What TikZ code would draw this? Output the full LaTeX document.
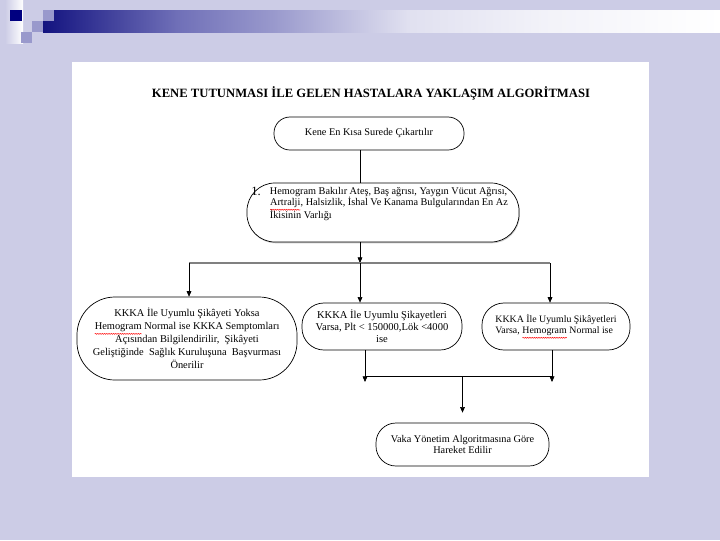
\documentclass[tikz,border=0pt]{standalone}
\usepackage{fontspec}
\setmainfont{Liberation Serif}
\usetikzlibrary{arrows.meta,shadows,decorations.pathmorphing}

\definecolor{slidebg}{RGB}{204,204,230}
\definecolor{slidenavy}{RGB}{0,0,128}
\definecolor{slidesq}{RGB}{153,153,204}
\pgfdeclarehorizontalshading{titlebar}{100bp}{color(0bp)=(slidenavy!85!gray);
  color(25bp)=(slidenavy!85!gray); color(35bp)=(slidenavy!45!slidebg);
  color(42bp)=(slidebg!75!slidenavy); color(52bp)=(slidebg!60!white);
  color(62bp)=(slidebg!25!white); color(75bp)=(white); color(100bp)=(white)}
\newcommand\spellwave[1]{\tikz[baseline=(sw.base)]{%
  \node[shape=rectangle, draw=none, fill=none, inner sep=0pt, outer sep=0pt,
    minimum size=0pt, rounded corners=0pt] (sw) {#1};
  \draw[red, line width=0.35pt, sharp corners, decorate,
    decoration={snake, amplitude=0.35pt, segment length=1.6pt}]
    ([yshift=-1.3pt]sw.south west) -- ([yshift=-1.3pt]sw.south east);}}

\begin{document}
\begin{tikzpicture}[x=0.025cm, y=-0.025cm, line width=0.5pt,
  rbox/.style={draw, fill=white, inner sep=1pt, align=center},
  txt/.style={font=\fontsize{7.3}{8}\selectfont},
  arr/.style={-{Triangle[length=4pt,width=3.4pt]}}]
  % slide
  \fill[slidebg] (0,0) rectangle (720,540);
  \shade[left color=slidebg, right color=white] (5,0) rectangle (23,43);
  \shade[shading=titlebar] (43,10) rectangle (720,32);
  \fill[slidenavy] (10,10) rectangle (22,21);
  \foreach \i in {0,1,2} \fill[slidesq] ({43-11*\i},{10+11*\i}) rectangle ++(11,11);
  \fill[white] (72,62) rectangle (649,477);

  \node[font=\bfseries\fontsize{9}{10}\selectfont] (title) at (371,93)
    {KENE TUTUNMASI İLE GELEN HASTALARA YAKLAŞIM ALGORİTMASI};

  \node[rbox, txt, minimum width=4.75cm, minimum height=0.825cm, rounded corners=0.4cm]
    (kene) at (369,133.5) {Kene En Kısa Surede Çıkartılır};
  \node[rbox, minimum width=6.8cm, minimum height=1.475cm, rounded corners=0.7cm,
    drop shadow={shadow xshift=0.5pt, shadow yshift=-0.9pt, fill=gray!80}]
    (hemo) at (383,212.5) {};
  \node[txt, anchor=north west, inner sep=0pt] (hemotext) at (251,187)
    {\renewcommand\arraystretch{0.85}%
     \begin{tabular}{@{}l@{\hspace{6.5pt}}l@{}}
      \raisebox{-1pt}{\fontsize{9}{9}\selectfont 1.} & Hemogram Bakılır Ateş, Baş ağrısı, Yaygın Vücut Ağrısı,\\
      & \spellwave{Artralji}, Halsizlik, İshal Ve Kanama Bulgularından En Az\\
      & İkisinin Varlığı
    \end{tabular}};

  \node[rbox, font=\fontsize{7.4}{9.2}\selectfont, minimum width=5.5cm, minimum height=2.075cm,
    rounded corners=0.95cm] (yoksa) at (187,338.5)
    {KKKA İle Uyumlu Şikâyeti Yoksa\\ \spellwave{Hemogram} Normal ise KKKA Semptomları\\
     Açısından Bilgilendirilir,\ \ Şikâyeti\\ Geliştiğinde\ \ Sağlık Kuruluşuna\ \ Başvurması\\ Önerilir};
  \node[rbox, font=\fontsize{7.5}{8.6}\selectfont, minimum width=4cm, minimum height=1.175cm,
    rounded corners=0.55cm] (varsa) at (382,326.5)
    {KKKA İle Uyumlu Şikayetleri\\ Varsa, Plt < 150000,Lök <4000\\ ise};
  \node[rbox, font=\fontsize{7}{8}\selectfont, align=left, minimum width=3.7cm, minimum height=1.175cm,
    rounded corners=0.55cm] (normal) at (556,326.5)
    {KKKA İle Uyumlu Şikâyetleri\\ Varsa, \spellwave{Hemogram} Normal ise};
  \node[rbox, txt, minimum width=4.325cm, minimum height=1.075cm, rounded corners=0.5cm]
    (vaka) at (462.5,444.5) {Vaka Yönetim Algoritmasına Göre\\ Hareket Edilir};

  \coordinate (hub) at (360,263);
  \coordinate (lft) at (189,263);
  \coordinate (rgt) at (550,263);
  \coordinate (mj) at (365,376);
  \coordinate (rj) at (552,376);
  \coordinate (mtip) at (365,382);
  \coordinate (rtip) at (552,382);

  \draw (kene.south -| hub) -- (hemo.north -| hub);
  \draw[arr] (hemo.south -| hub) -- (hub);
  \draw[gray, line width=1.1pt] (lft) -- (rgt);
  \draw[arr] (lft) -- (lft |- yoksa.north);
  \draw[arr] (hub) -- (hub |- varsa.north);
  \draw[arr] (rgt) -- (rgt |- normal.north);
  \draw[arr] (varsa.south -| mj) -- (mtip);
  \draw[arr] (normal.south -| rj) -- (rtip);
  \draw (mj) -- (rj);
  \draw[arr, shorten >=0.25cm] (vaka.north |- mj) -- (vaka.north);
\end{tikzpicture}
\end{document}
